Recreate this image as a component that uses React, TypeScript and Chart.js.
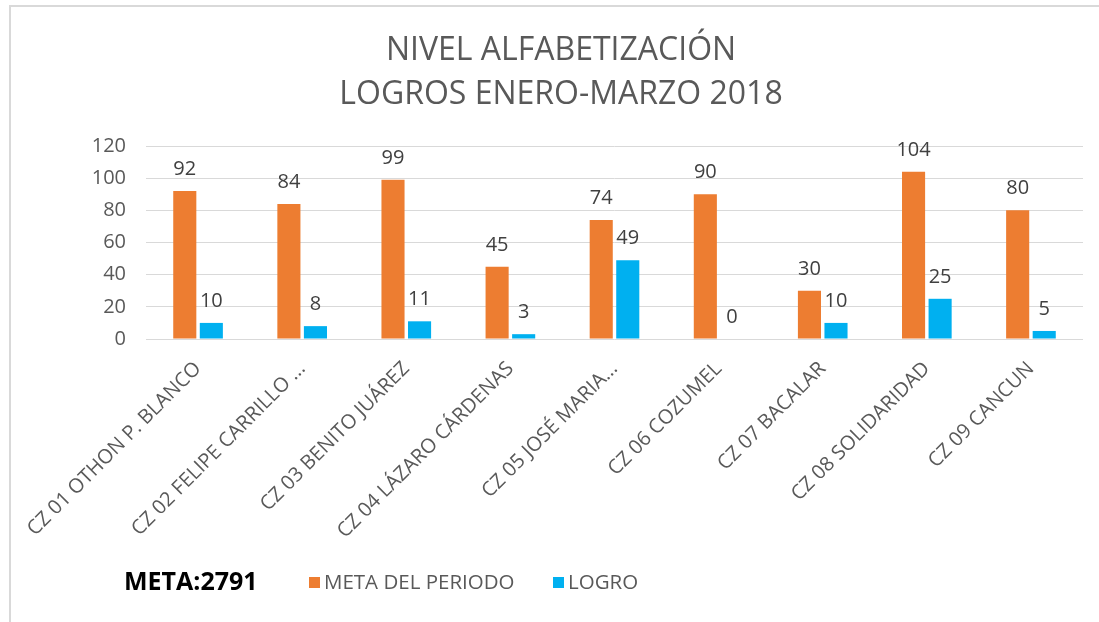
import React, { useEffect, useRef } from 'react';
import { Chart, registerables } from 'chart.js';

Chart.register(...registerables);

const categories = [
  'CZ 01 OTHON P. BLANCO',
  'CZ 02 FELIPE CARRILLO ...',
  'CZ 03 BENITO JUÁREZ',
  'CZ 04 LÁZARO CÁRDENAS',
  'CZ 05 JOSÉ MARIA...',
  'CZ 06 COZUMEL',
  'CZ 07 BACALAR',
  'CZ 08 SOLIDARIDAD',
  'CZ 09 CANCUN',
];
const metaValues = [92, 84, 99, 45, 74, 90, 30, 104, 80];
const logroValues = [10, 8, 11, 3, 49, 0, 10, 25, 5];
const seriesNames = ['META DEL PERIODO', 'LOGRO'];
const titleLines = ['NIVEL ALFABETIZACIÓN', 'LOGROS ENERO-MARZO 2018'];
const metaTotalText = 'META:2791';
const yMin = 0;
const yMax = 120;
const yStep = 20;

const FONT = "'Open Sans', sans-serif";
const ORANGE = '#ED7D31';
const BLUE = '#00B0F0';
const TEXT = '#595959';

const decorPlugin = {
  id: 'decor',
  beforeDraw(chart: any) {
    const ctx = chart.ctx;
    ctx.save();
    ctx.fillStyle = '#ffffff';
    ctx.fillRect(0, 0, chart.width, chart.height);
    // frame
    ctx.strokeStyle = '#d9d9d9';
    ctx.lineWidth = 2;
    ctx.beginPath();
    ctx.moveTo(10, chart.height + 5);
    ctx.lineTo(10, 6);
    ctx.lineTo(chart.width + 5, 6);
    ctx.stroke();
    // title
    ctx.fillStyle = TEXT;
    ctx.font = `32px ${FONT}`;
    ctx.textAlign = 'center';
    ctx.textBaseline = 'alphabetic';
    ctx.fillText(titleLines[0], 561, 60);
    ctx.fillText(titleLines[1], 561, 104);
    ctx.restore();
  },
  afterDatasetsDraw(chart: any) {
    const ctx = chart.ctx;
    ctx.save();
    // data labels
    ctx.font = `20px ${FONT}`;
    ctx.fillStyle = '#404040';
    ctx.textAlign = 'center';
    ctx.textBaseline = 'alphabetic';
    chart.data.datasets.forEach((ds: any, di: number) => {
      const meta = chart.getDatasetMeta(di);
      meta.data.forEach((bar: any, i: number) => {
        ctx.fillText(String(ds.data[i]), bar.x, bar.y - 16);
      });
    });
    // META total
    ctx.font = `bold 25px ${FONT}`;
    ctx.fillStyle = '#000000';
    ctx.textAlign = 'left';
    ctx.textBaseline = 'alphabetic';
    ctx.fillText(metaTotalText, 124, 590);
    // legend
    ctx.font = `20.5px ${FONT}`;
    const items = [
      { x: 309, color: ORANGE, label: seriesNames[0] },
      { x: 553, color: BLUE, label: seriesNames[1] },
    ];
    items.forEach((it) => {
      ctx.fillStyle = it.color;
      ctx.fillRect(it.x, 577, 11, 11);
      ctx.fillStyle = TEXT;
      ctx.fillText(it.label, it.x + 15, 589);
    });
    ctx.restore();
  },
};

export default function App() {
  const canvasRef = useRef<HTMLCanvasElement>(null);

  useEffect(() => {
    if (!canvasRef.current) return;
    const chart = new Chart(canvasRef.current, {
      type: 'bar',
      data: {
        labels: categories,
        datasets: [
          {
            label: seriesNames[0],
            data: metaValues,
            backgroundColor: ORANGE,
            categoryPercentage: 0.51,
            barPercentage: 0.87,
          },
          {
            label: seriesNames[1],
            data: logroValues,
            backgroundColor: BLUE,
            categoryPercentage: 0.51,
            barPercentage: 0.87,
          },
        ],
      },
      options: {
        responsive: false,
        animation: false,
        devicePixelRatio: 1,
        layout: { padding: { top: 146, right: 16, bottom: 0, left: 0 } },
        plugins: {
          legend: { display: false },
          title: { display: false },
          tooltip: { enabled: false },
        },
        scales: {
          x: {
            grid: { display: false, drawTicks: false },
            border: { display: false },
            ticks: {
              color: TEXT,
              font: { family: FONT, size: 20 },
              minRotation: 45,
              maxRotation: 45,
              autoSkip: false,
              padding: 18,
            },
            afterFit: (s: any) => {
              s.height = 283;
            },
          },
          y: {
            min: yMin,
            max: yMax,
            ticks: {
              stepSize: yStep,
              color: TEXT,
              font: { family: FONT, size: 20 },
              padding: 20,
            },
            grid: { color: '#d9d9d9', drawTicks: false, lineWidth: 1 },
            border: { display: false },
            afterFit: (s: any) => {
              s.width = 146;
            },
          },
        },
      },
      plugins: [decorPlugin],
    });
    return () => chart.destroy();
  }, []);

  return (
    <div style={{ position: 'fixed', left: 0, top: 0, width: 1099, height: 622, background: '#fff' }}>
      <canvas ref={canvasRef} width={1099} height={622} style={{ display: 'block' }} />
    </div>
  );
}
